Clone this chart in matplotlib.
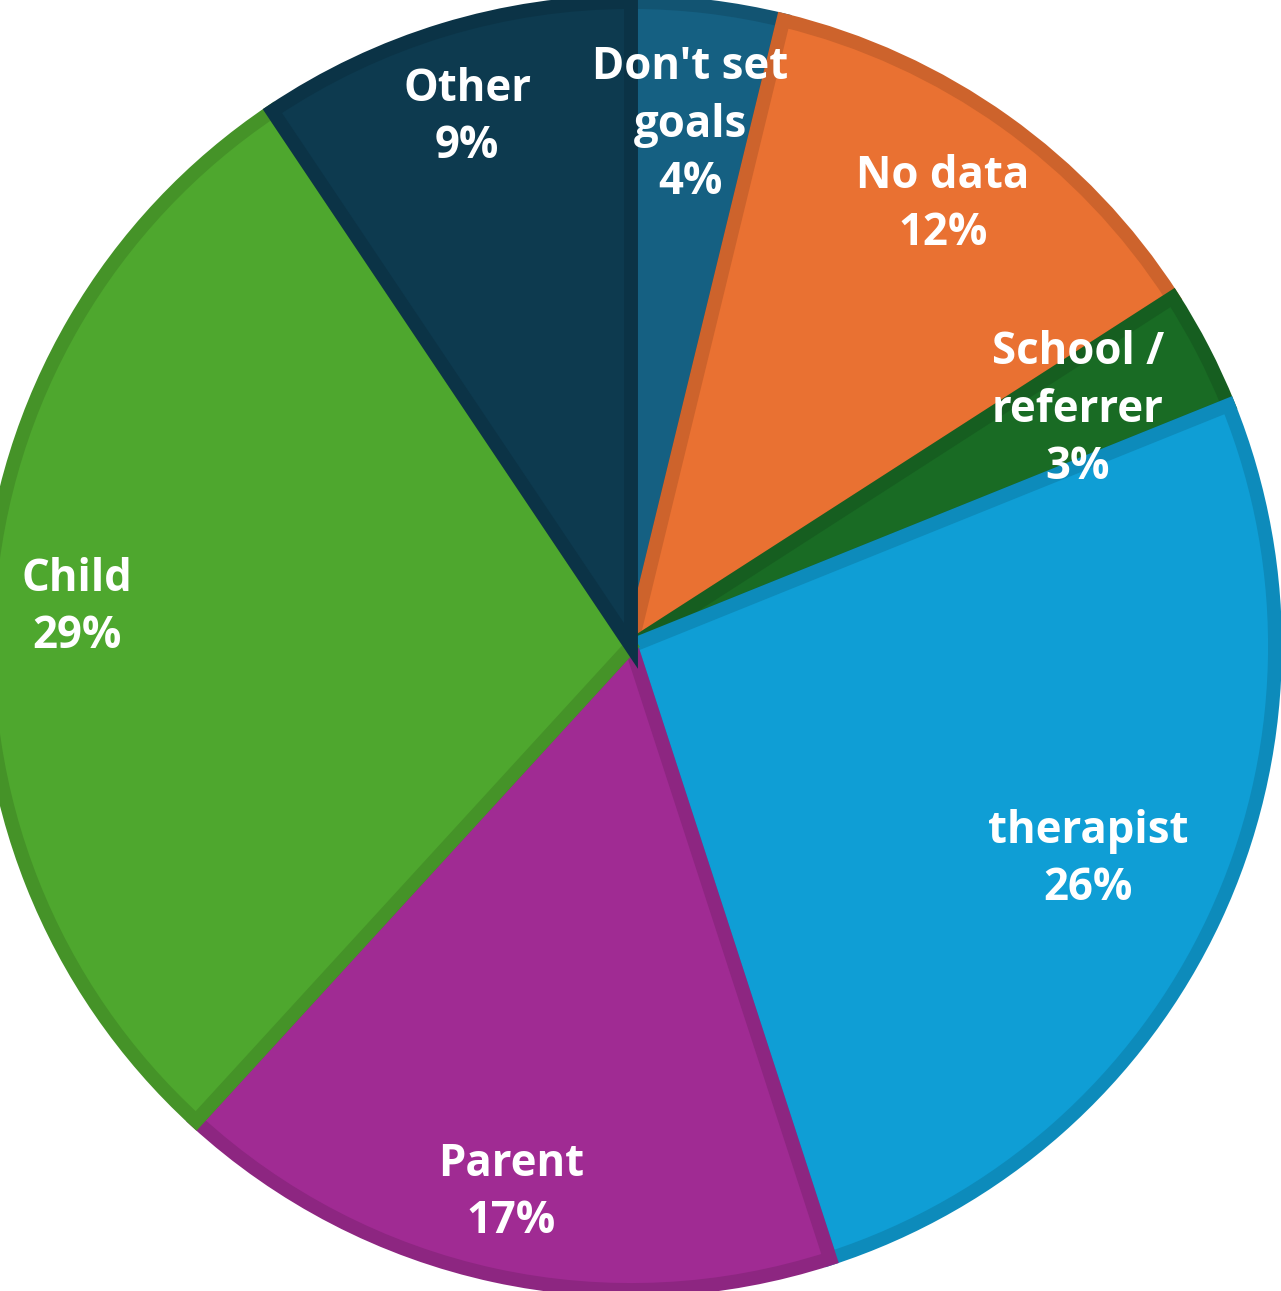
import matplotlib
matplotlib.use("Agg")
import matplotlib.pyplot as plt
import matplotlib.colors as mcolors
import numpy as np

# slices clockwise from 12 o'clock
labels = ["Don't set\ngoals", "No data", "School /\nreferrer", "therapist", "Parent", "Child", "Other"]
shares = [3.8, 12.1, 3.0, 26.1, 16.8, 28.8, 9.4]
colors = ["#156082", "#E97132", "#196B24", "#0F9ED5", "#A02B93", "#4EA72E", "#0D3A4F"]

# label anchor points in pixel coords (x from left, y from top)
label_pos = [(690, 125), (943, 205), (1078, 410), (1088, 860), (511, 1193), (77, 608), (467, 118)]

W, H = 1281, 1291
fig = plt.figure(figsize=(W / 100, H / 100), dpi=100)
ax = fig.add_axes([0, 0, 1, 1])

cx, cy, r = 631, H - 646, 644
wedges, _ = ax.pie(shares, colors=colors, startangle=90, counterclock=False,
                   center=(cx, cy), radius=r, frame=True)
ax.set_xlim(0, W)
ax.set_ylim(0, H)
ax.set_aspect("equal")
ax.axis("off")

# darker inner rim on every slice (stroke clipped to the wedge itself)
for w, c in zip(wedges, colors):
    rgb = np.array(mcolors.to_rgb(c)) * 0.88
    w.set_edgecolor(rgb)
    w.set_linewidth(10)
    w.set_joinstyle("miter")
    w.set_clip_path(w)

total = sum(shares)
for lab, val, (px, py) in zip(labels, shares, label_pos):
    txt = f"{lab}\n{round(val / total * 100):.0f}%"
    ax.text(px, H - py, txt, ha="center", va="center", color="white",
            fontsize=31.5, fontweight="bold", family=["Open Sans", "DejaVu Sans"],
            linespacing=1.36)

fig.savefig("out.png", dpi=100)
